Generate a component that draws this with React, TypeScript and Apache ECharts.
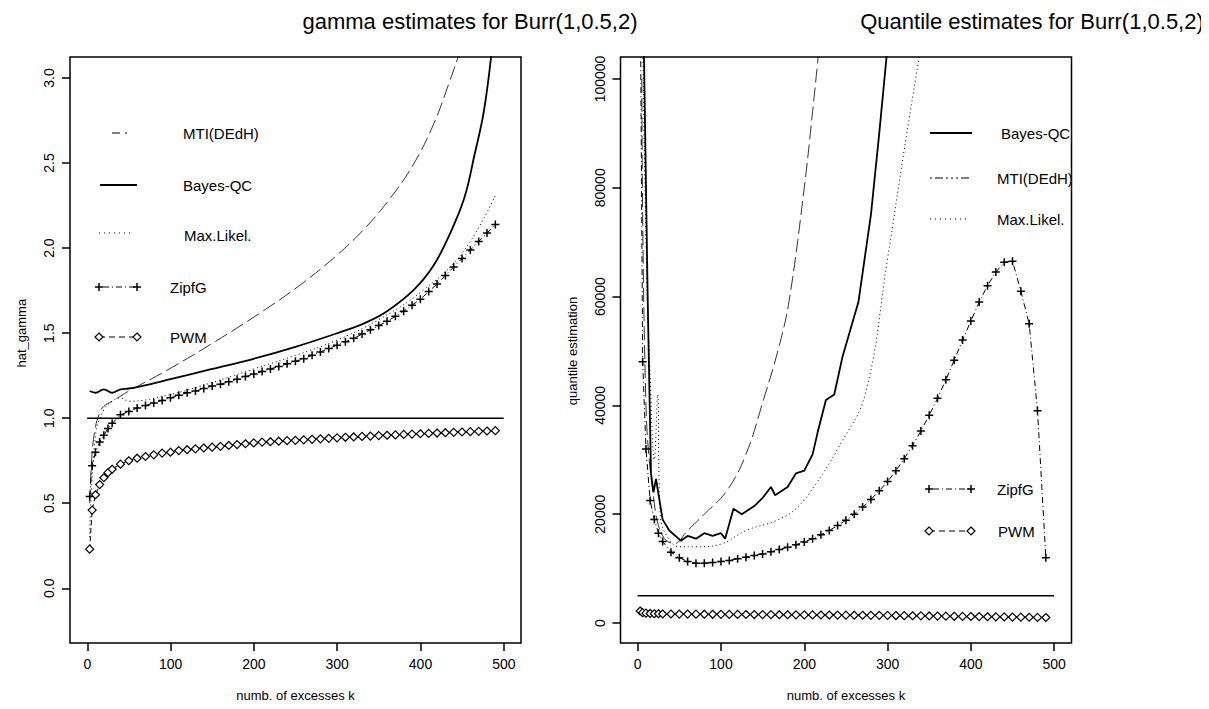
import { useEffect, useRef } from 'react';
import * as echarts from 'echarts';

// shared k values for marker series
const kMark = [3, 6, 10, 15, 20, 25, 30, 40, 50, 60, 70, 80, 90, 100, 110, 120, 130, 140, 150, 160, 170, 180, 190, 200, 210, 220, 230, 240, 250, 260, 270, 280, 290, 300, 310, 320, 330, 340, 350, 360, 370, 380, 390, 400, 410, 420, 430, 440, 450, 460, 470, 480, 490];

// left panel: gamma estimates
const zipfGamma = [0.54, 0.72, 0.8, 0.86, 0.9, 0.94, 0.97, 1.02, 1.04, 1.06, 1.075, 1.09, 1.105, 1.12, 1.135, 1.15, 1.16, 1.175, 1.19, 1.2, 1.215, 1.23, 1.245, 1.26, 1.275, 1.29, 1.305, 1.32, 1.335, 1.35, 1.37, 1.39, 1.41, 1.43, 1.45, 1.47, 1.495, 1.52, 1.545, 1.57, 1.6, 1.63, 1.665, 1.7, 1.745, 1.79, 1.84, 1.89, 1.94, 1.99, 2.04, 2.09, 2.14];
const pwmGamma = [0.23, 0.46, 0.55, 0.61, 0.65, 0.68, 0.7, 0.73, 0.75, 0.765, 0.775, 0.785, 0.795, 0.8, 0.81, 0.815, 0.82, 0.825, 0.83, 0.835, 0.84, 0.845, 0.85, 0.855, 0.86, 0.862, 0.865, 0.868, 0.87, 0.873, 0.876, 0.879, 0.882, 0.885, 0.888, 0.89, 0.893, 0.895, 0.898, 0.9, 0.902, 0.905, 0.907, 0.909, 0.911, 0.913, 0.915, 0.917, 0.919, 0.921, 0.923, 0.925, 0.927];
const kBayesL = [3, 10, 20, 30, 40, 50, 75, 100, 150, 200, 250, 300, 333, 360, 393, 416, 435, 453, 465, 476, 485, 492];
const bayesGamma = [1.16, 1.15, 1.17, 1.15, 1.17, 1.175, 1.2, 1.23, 1.29, 1.35, 1.42, 1.5, 1.56, 1.63, 1.76, 1.9, 2.08, 2.3, 2.55, 2.8, 3.13, 3.5];
const kMtiL = [3, 6, 10, 15, 20, 30, 40, 50, 95, 150, 214, 260, 300, 330, 360, 390, 415, 435, 450, 460];
const mtiGamma = [0.5, 0.8, 0.95, 1.03, 1.07, 1.1, 1.13, 1.16, 1.28, 1.44, 1.64, 1.8, 1.96, 2.1, 2.27, 2.48, 2.72, 2.98, 3.2, 3.4];
const kMlL = [3, 10, 20, 30, 40, 50, 100, 150, 200, 250, 300, 350, 400, 450, 490];
const mlGamma = [0.3, 0.9, 1.05, 1.1, 1.12, 1.1, 1.14, 1.21, 1.29, 1.37, 1.46, 1.58, 1.74, 1.97, 2.31];

// right panel: quantile estimates
const zipfQ = [120000, 48000, 32000, 22500, 19000, 16500, 15000, 13000, 12000, 11300, 11000, 11000, 11100, 11300, 11500, 11800, 12100, 12400, 12700, 13100, 13500, 13900, 14400, 14900, 15500, 16200, 17000, 17900, 18900, 20000, 21300, 22700, 24300, 26000, 28000, 30200, 32600, 35300, 38200, 41300, 44700, 48300, 52000, 55500, 59000, 62000, 64500, 66300, 66500, 61000, 55000, 39000, 12000];
const pwmQ = [2200, 1900, 1800, 1750, 1700, 1700, 1650, 1650, 1640, 1630, 1620, 1610, 1600, 1590, 1580, 1570, 1560, 1550, 1540, 1530, 1520, 1510, 1500, 1490, 1480, 1470, 1460, 1450, 1440, 1430, 1420, 1410, 1400, 1390, 1370, 1350, 1330, 1310, 1290, 1270, 1250, 1230, 1210, 1190, 1170, 1150, 1130, 1110, 1090, 1070, 1050, 1030, 1010];
const kBayesR = [5, 12, 16, 19, 22, 30, 38, 52, 60, 70, 80, 90, 100, 105, 115, 125, 140, 150, 160, 165, 180, 190, 200, 210, 216, 226, 236, 246, 265, 280, 290, 300];
const bayesQ = [130000, 60000, 27500, 24000, 26500, 19000, 17000, 15100, 16000, 15500, 16500, 16000, 16500, 15500, 21000, 20000, 21500, 23000, 25000, 23500, 25000, 27500, 28000, 31000, 35000, 41000, 42000, 49000, 59000, 75000, 90000, 106000];
const kMtiR = [5, 10, 20, 30, 44, 60, 80, 107, 130, 151, 170, 182, 200, 210, 218];
const mtiQ = [100000, 40000, 22000, 16000, 14600, 17000, 20000, 24300, 31000, 41000, 51000, 59400, 80000, 94000, 106000];
const kMlR = [5, 10, 15, 20, 24, 27, 35, 50, 70, 100, 130, 166, 190, 214, 240, 273, 300, 320, 340];
const mlQ = [120000, 70000, 45000, 30000, 42000, 20000, 16000, 14000, 14000, 14500, 17000, 18800, 21000, 25600, 32000, 42000, 67000, 87000, 106000];

const FONT = '"Liberation Sans", Arial, sans-serif';
const pairs = (k: number[], v: number[]) => k.map((x, i) => [x, v[i]]);
const PLUS = 'path://M5,0L5,10M0,5L10,5';

export default function App() {
  const ref = useRef<HTMLDivElement>(null);

  useEffect(() => {
    if (!ref.current) return;
    const chart = echarts.init(ref.current, null, { renderer: 'svg' });
    const lbl = { fontFamily: FONT, fontSize: 14, color: '#000' };
    const line = (xi: number, data: any, type: any, width = 1, extra: any = {}) => ({
      type: 'line', xAxisIndex: xi, yAxisIndex: xi, data, showSymbol: false, symbol: 'none',
      lineStyle: { color: '#000', width, type }, silent: true, ...extra,
    });
    const plusSeries = (xi: number, data: any) => line(xi, data, [6, 3, 1, 3], 1, {
      symbol: PLUS, showSymbol: true, symbolSize: 8,
      itemStyle: { color: 'none', borderColor: '#000', borderWidth: 1.5 },
    });
    const diaSeries = (xi: number, data: any) => line(xi, data, [5, 3], 1, {
      symbol: 'diamond', showSymbol: true, symbolSize: 8,
      itemStyle: { color: '#fff', borderColor: '#000', borderWidth: 1.2 },
    });
    const hidden = { show: false };
    const dataX = (gi: number) => ({ type: 'value', gridIndex: gi, min: -20.6, max: 520.8, show: false });
    const boxGrid = (left: number) => ({ left, top: 57, width: 451, height: 586, show: true, borderColor: '#000', borderWidth: 1.5, backgroundColor: 'transparent' });
    const xAxisReal = (gi: number) => ({
      type: 'value', gridIndex: gi, min: 0, max: 500, interval: 100,
      axisLine: hidden,
      axisTick: { show: true, length: 8, lineStyle: { color: '#000', width: 1.5 } },
      axisLabel: { ...lbl, margin: 14 }, splitLine: hidden,
      name: 'numb. of excesses k', nameLocation: 'middle', nameGap: 46,
      nameTextStyle: { fontFamily: FONT, fontSize: 13, color: '#000' },
    });
    const yAxisReal = (gi: number, max: number, interval: number, name: string, fmt: (v: number) => string, gap: number) => ({
      type: 'value', gridIndex: gi, min: 0, max, interval,
      axisLine: hidden,
      axisTick: { show: true, length: 8, lineStyle: { color: '#000', width: 1.5 } },
      axisLabel: { ...lbl, rotate: 90, margin: 14, formatter: fmt }, splitLine: hidden,
      name, nameLocation: 'middle', nameGap: gap,
      nameTextStyle: { fontFamily: FONT, fontSize: 13, color: '#000' },
    });

    const legLine = (x1: number, x2: number, y: number, dash: any, width = 1) => ({
      type: 'line', shape: { x1, y1: y, x2, y2: y }, style: { stroke: '#000', lineWidth: width, lineDash: dash },
    });
    const legText = (x: number, y: number, t: string) => ({
      type: 'text', x, y, style: { text: t, font: `15px ${FONT}`, fill: '#000', textVerticalAlign: 'middle' },
    });
    const plus = (x: number, y: number) => ({
      type: 'group', children: [
        { type: 'line', shape: { x1: x - 4, y1: y, x2: x + 4, y2: y }, style: { stroke: '#000', lineWidth: 1.5 } },
        { type: 'line', shape: { x1: x, y1: y - 4, x2: x, y2: y + 4 }, style: { stroke: '#000', lineWidth: 1.5 } },
      ],
    });
    const dia = (x: number, y: number) => ({
      type: 'polygon', shape: { points: [[x, y - 4], [x + 4, y], [x, y + 4], [x - 4, y]] }, style: { fill: '#fff', stroke: '#000', lineWidth: 1.2 },
    });
    const title = (x: number, t: string) => ({
      type: 'text', x, y: 21, style: { text: t, font: `22px ${FONT}`, fill: '#000', textAlign: 'center', textVerticalAlign: 'middle' },
    });
    const smooth = { smooth: 0.4 };

    const option: any = {
      animation: false,
      backgroundColor: '#fff',
      grid: [
        boxGrid(70), boxGrid(620.5),
        { left: 87.3, top: 57, width: 416.5, height: 586 },
        { left: 637.7, top: 57, width: 416.5, height: 586 },
        { left: 70, top: 78, width: 10, height: 510.3 },
        { left: 620.5, top: 79, width: 10, height: 544 },
      ],
      xAxis: [
        dataX(0), dataX(1), xAxisReal(2), xAxisReal(3),
        { type: 'value', gridIndex: 4, show: false }, { type: 'value', gridIndex: 5, show: false },
      ],
      yAxis: [
        { type: 'value', gridIndex: 0, min: -0.322, max: 3.125, show: false },
        { type: 'value', gridIndex: 1, min: -3680, max: 104040, show: false },
        { type: 'value', gridIndex: 2, show: false },
        { type: 'value', gridIndex: 3, show: false },
        yAxisReal(4, 3, 0.5, 'hat_gamma', (v) => v.toFixed(1), 42),
        yAxisReal(5, 100000, 20000, 'quantile estimation', (v) => String(v), 42),
      ],
      series: [
        line(0, [[0, 1], [500, 1]], 'solid', 1.5),
        line(0, pairs(kMtiL, mtiGamma), [14, 5], 0.8, smooth),
        line(0, pairs(kBayesL, bayesGamma), 'solid', 1.8, smooth),
        line(0, pairs(kMlL, mlGamma), [1, 3], 1, smooth),
        plusSeries(0, pairs(kMark, zipfGamma)),
        diaSeries(0, pairs(kMark, pwmGamma)),
        line(1, [[0, 5000], [500, 5000]], 'solid', 1.5),
        line(1, pairs(kMtiR, mtiQ), [14, 5], 0.8, smooth),
        line(1, pairs(kBayesR, bayesQ), 'solid', 1.8),
        line(1, pairs(kMlR, mlQ), [1, 3], 1, smooth),
        plusSeries(1, pairs(kMark, zipfQ)),
        diaSeries(1, pairs(kMark, pwmQ)),
      ],
      graphic: [
        title(470, 'gamma estimates for Burr(1,0.5,2)'),
        title(1032, 'Quantile estimates for Burr(1,0.5,2)'),
        legLine(112, 137, 133, [8, 5, 2, 20]), legText(183, 133, 'MTI(DEdH)'),
        legLine(100, 137, 185, null, 1.8), legText(183, 185, 'Bayes-QC'),
        legLine(99, 134, 233, [1, 4]), legText(184, 235, 'Max.Likel.'),
        legLine(99, 137, 287, [1, 3, 6, 3]), plus(99, 287), plus(137, 287), legText(170, 287, 'ZipfG'),
        legLine(99, 137, 337, [6, 4]), dia(99, 337), dia(137, 337), legText(170, 337, 'PWM'),
        legLine(930, 972, 133, null, 1.8), legText(1001, 133, 'Bayes-QC'),
        legLine(930, 969, 178, [2, 3, 8, 3, 2, 3, 2, 3]), legText(997, 178, 'MTI(DEdH)'),
        legLine(930, 970, 219, [1, 4]), legText(997, 219, 'Max.Likel.'),
        legLine(929, 971, 489, [1, 3, 6, 3]), plus(929, 489), plus(971, 489), legText(997, 489, 'ZipfG'),
        legLine(929, 971, 531, [6, 4]), dia(929, 531), dia(971, 531), legText(998, 531, 'PWM'),
      ],
    };
    chart.setOption(option);
    return () => chart.dispose();
  }, []);

  return <div ref={ref} style={{ width: 1209, height: 709, margin: -8 }} />;
}
